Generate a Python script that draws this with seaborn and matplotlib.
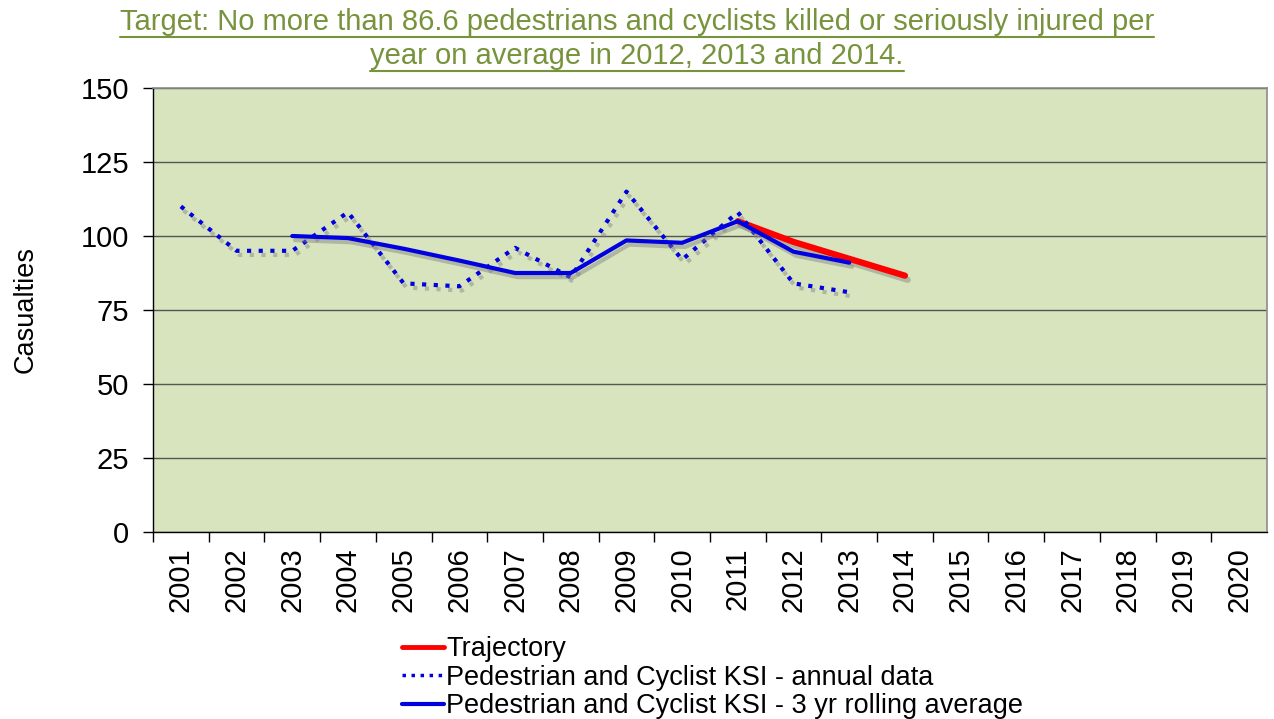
import matplotlib
matplotlib.use("Agg")
import matplotlib.pyplot as plt
import matplotlib.patheffects as pe
from matplotlib.lines import Line2D
import pandas as pd
import seaborn as sns

# data
years = list(range(2001, 2021))
annual_years = list(range(2001, 2014))
annual = [110, 95, 95, 108, 84, 83, 96, 86, 115, 92, 108, 84, 81]
rolling_years = list(range(2003, 2014))
rolling = [100, 99.3, 95.7, 91.7, 87.5, 87.5, 98.5, 97.7, 105, 94.7, 91]
traj_years = [2011, 2012, 2013, 2014]
trajectory = [105, 98, 92.3, 86.6]

title_lines = ["Target: No more than 86.6 pedestrians and cyclists killed or seriously injured per",
               "year on average in 2012, 2013 and 2014."]

sns.set_style("white")
plt.rcParams['font.family'] = ['Liberation Sans', 'DejaVu Sans']
plt.rcParams['text.color'] = 'black'
plt.rcParams['xtick.labelcolor'] = 'black'
plt.rcParams['ytick.labelcolor'] = 'black'

fig = plt.figure(figsize=(12.74, 7.19), dpi=100)
ax = fig.add_axes([0.1201, 0.2601, 0.8744, 0.6175])
ax.set_facecolor("#D7E4BD")

shadow = [pe.SimpleLineShadow(offset=(2, -3), shadow_color="gray", alpha=0.45), pe.Normal()]

df_annual = pd.DataFrame({"year": annual_years, "value": annual})
df_roll = pd.DataFrame({"year": rolling_years, "value": rolling})
df_traj = pd.DataFrame({"year": traj_years, "value": trajectory})

sns.lineplot(data=df_annual, x="year", y="value", ax=ax, color="#0000E0",
             linestyle=(0, (1, 1.8)), linewidth=3, path_effects=shadow)
sns.lineplot(data=df_roll, x="year", y="value", ax=ax, color="#0000E0",
             linewidth=3, path_effects=shadow)
sns.lineplot(data=df_traj, x="year", y="value", ax=ax, color="#FF0000",
             linewidth=4.5, path_effects=shadow, zorder=1.9)

ax.set_xlim(2000.5, 2020.5)
ax.set_ylim(0, 150)
ax.set_yticks(range(0, 151, 25))
ax.yaxis.grid(True, color="#555555", linewidth=1)
ax.set_axisbelow(True)
ax.set_xticks(years)
ax.set_xticklabels([str(y) for y in years], rotation=90, fontsize=21)
ax.set_xticks([y + 0.5 for y in range(2000, 2020)], minor=True)
ax.tick_params(axis="x", which="major", length=0, pad=11)
ax.tick_params(axis="x", which="minor", length=7, width=1, color="black", direction="out", bottom=True)
ax.tick_params(axis="y", length=7, width=1, color="black", direction="out", left=True, labelsize=21, pad=10)
ax.set_xlabel("")
ax.set_ylabel("Casualties", fontsize=19.5, labelpad=30, color="black")

for side in ["left", "bottom"]:
    ax.spines[side].set_color("black")
    ax.spines[side].set_linewidth(1)
for side in ["top", "right"]:
    ax.spines[side].set_visible(True)
    ax.spines[side].set_color("#8C8C8C")
    ax.spines[side].set_linewidth(1.2)

handles = [
    Line2D([], [], color="#FF0000", linewidth=3.5),
    Line2D([], [], color="#0000E0", linewidth=2.5, linestyle=(0, (1, 1.6))),
    Line2D([], [], color="#0000E0", linewidth=3),
]
labels = ["Trajectory", "Pedestrian and Cyclist KSI - annual data",
          "Pedestrian and Cyclist KSI - 3 yr rolling average"]
fig.legend(handles, labels, loc="upper left", bbox_to_anchor=(402 / 1274, 1 - 636 / 719),
           frameon=False, fontsize=19.5, handlelength=1.55, handletextpad=0.08,
           labelspacing=0.1, borderaxespad=0, borderpad=0, labelcolor="black")

# title with underline
title_color = "#77933C"
texts = [fig.text(0.5, 1 - 22 / 719, title_lines[0], ha="center", va="center",
                  fontsize=21, color=title_color),
         fig.text(0.5, 1 - 56 / 719, title_lines[1], ha="center", va="center",
                  fontsize=21, color=title_color)]
fig.canvas.draw()
renderer = fig.canvas.get_renderer()
for t in texts:
    bb = t.get_window_extent(renderer).transformed(fig.transFigure.inverted())
    yline = bb.y0 - 0.5 / 719
    fig.add_artist(Line2D([bb.x0, bb.x1], [yline, yline], transform=fig.transFigure,
                          color=title_color, linewidth=1.5))

fig.savefig("out.png", dpi=100)
